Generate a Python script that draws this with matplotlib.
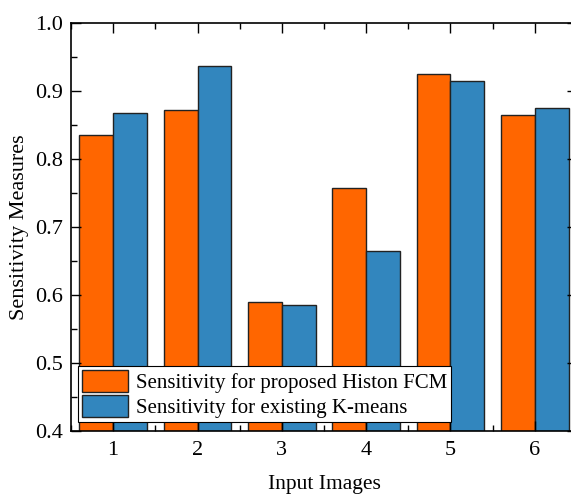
import matplotlib
matplotlib.use("Agg")
import matplotlib.pyplot as plt
from matplotlib.ticker import MultipleLocator
import numpy as np

categories = [1, 2, 3, 4, 5, 6]
histon_fcm = [0.835, 0.872, 0.589, 0.757, 0.925, 0.865]
kmeans = [0.868, 0.937, 0.586, 0.664, 0.915, 0.875]
labels = ["Sensitivity for proposed Histon FCM", "Sensitivity for existing K-means"]

plt.rcParams['font.family'] = ['Liberation Serif', 'DejaVu Serif']
plt.rcParams['mathtext.fontset'] = 'stix'

fig = plt.figure(figsize=(5.71, 4.95), dpi=100)
ax = fig.add_axes([71/571, 1-431/495, 506/571, 408/495])

x = np.array(categories)
w = 0.4
ax.bar(x - w/2, histon_fcm, width=w, color='#FF6600', edgecolor='#222222', linewidth=1.0, label=labels[0])
ax.bar(x + w/2, kmeans, width=w, color='#3286BE', edgecolor='#222222', linewidth=1.0, label=labels[1])

ax.set_xlim(0.5, 6.5)
ax.set_ylim(0.4, 1.0)
ax.set_xticks(categories)
ax.xaxis.set_minor_locator(MultipleLocator(0.5))
ax.yaxis.set_major_locator(MultipleLocator(0.1))
ax.yaxis.set_minor_locator(MultipleLocator(0.05))
ax.tick_params(which='both', direction='in', top=True, right=True, labelsize=16, width=1.0)
ax.tick_params(which='major', length=7)
ax.tick_params(which='minor', length=4)
ax.tick_params(axis='x', pad=7)
ax.tick_params(axis='y', pad=5.5)
for s in ax.spines.values():
    s.set_linewidth(1.2)

ax.set_xlabel("Input Images", fontsize=15.5, labelpad=11)
ax.set_ylabel("Sensitivity Measures", fontsize=16, labelpad=5)

leg = ax.legend(loc='lower left', bbox_to_anchor=(0.014, 0.022), fontsize=15,
                frameon=True, fancybox=False, edgecolor='black', framealpha=1,
                handlelength=2.22, handleheight=1.25, labelspacing=0.12,
                handletextpad=0.4, borderpad=0.18, borderaxespad=0.0)
leg.get_frame().set_linewidth(0.8)

fig.savefig("out.png", dpi=100)
